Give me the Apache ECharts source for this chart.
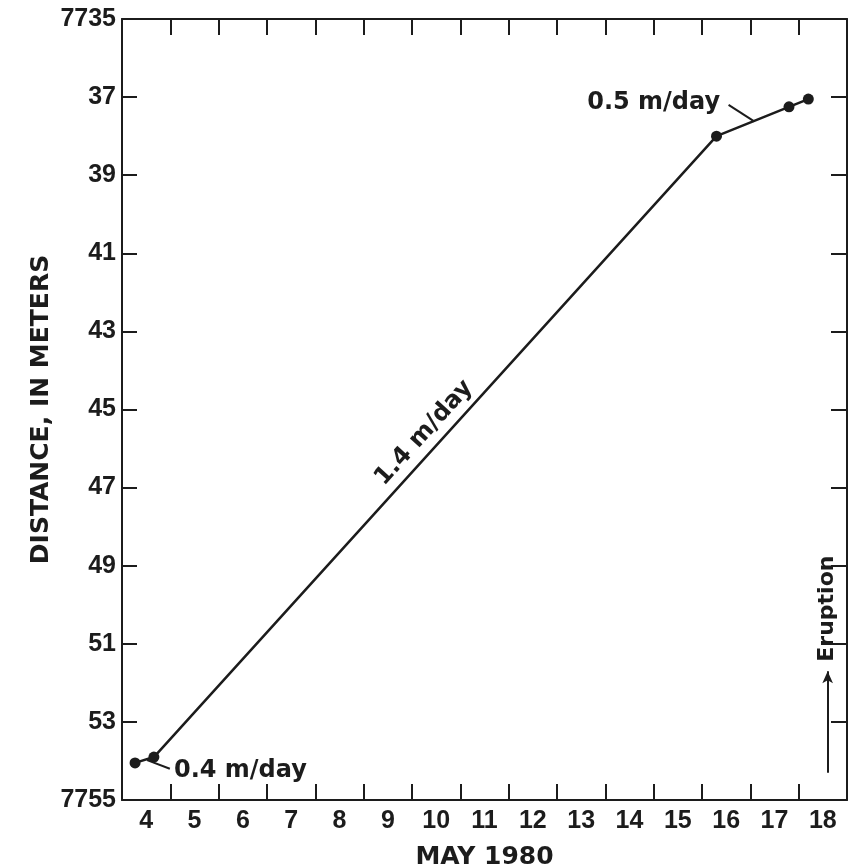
<!DOCTYPE html>
<html>
<head>
<meta charset="utf-8">
<script src="https://cdn.jsdelivr.net/npm/echarts@6/dist/echarts.min.js"></script>
<style>
  html, body { margin: 0; padding: 0; background: #fff; }
  #main { width: 856px; height: 868px; }
</style>
</head>
<body>
<div id="main"></div>
<script>
// days of May 1980 (each label sits in the middle of its day)
const days = ['4', '5', '6', '7', '8', '9', '10', '11', '12', '13', '14', '15', '16', '17', '18'];

// survey points: day (fractional) and distance in meters
const obsDay = [4.27, 4.66, 16.3, 17.8, 18.2];
const obsDist = [7754.05, 7753.9, 7738.0, 7737.25, 7737.05];

// rate notes
const noteText = ['0.4 m/day', '1.4 m/day', '0.5 m/day'];
const noteDay = [6.45, 10.25, 15.0];
const noteDist = [7754.25, 7745.6, 7737.15];
const noteAngle = [0, 47.8, 0];

// leader lines from notes to the line
const leaderFrom = [[4.52, 7753.98], [16.55, 7737.2]];
const leaderTo = [[4.99, 7754.2], [17.08, 7737.62]];

// eruption marker
const eruptionDay = 18.6;
const eruptionArrow = [7754.3, 7751.7];
const eruptionTextDist = 7750.1;

const TICK_FONT = 'Liberation Sans';
const TEXT_FONT = 'DejaVu Sans';
const INK = '#1c1c1c';

let chart = echarts.init(document.getElementById('main'));

let notes = noteText.map((t, i) => ({
  value: [noteDay[i], noteDist[i]],
  label: { formatter: t, rotate: noteAngle[i] }
}));
notes.push({
  value: [eruptionDay, eruptionTextDist],
  label: { formatter: 'Eruption', rotate: 90, fontSize: 22 }
});

let lineMarks = leaderFrom.map((p, i) => [{ coord: p }, { coord: leaderTo[i] }]);
lineMarks.push([
  { coord: [eruptionDay, eruptionArrow[0]], symbol: 'none' },
  { coord: [eruptionDay, eruptionArrow[1]], symbol: 'arrow', symbolSize: [8, 12] }
]);

let tickLabel = { fontFamily: TICK_FONT, fontSize: 25, fontWeight: 'bold', color: INK };
let nameText = { fontFamily: TEXT_FONT, fontSize: 25, fontWeight: 'bold', color: INK };

let option = {
  animation: false,
  backgroundColor: '#ffffff',
  grid: { left: 122, right: 9, top: 19, bottom: 68, outerBoundsMode: 'none', containLabel: false },
  xAxis: [
    {
      // value axis for the data
      type: 'value',
      min: 4,
      max: 19,
      show: false
    },
    {
      type: 'category',
      position: 'bottom',
      data: days,
      boundaryGap: true,
      name: 'MAY 1980',
      nameLocation: 'middle',
      nameGap: 45,
      nameMoveOverlap: false,
      nameTextStyle: nameText,
      axisLine: { show: true, lineStyle: { color: INK, width: 2 } },
      axisTick: { show: true, inside: true, length: 16, lineStyle: { color: INK, width: 2 } },
      axisLabel: Object.assign({ margin: 9 }, tickLabel),
      splitLine: { show: false }
    },
    {
      type: 'category',
      position: 'top',
      data: days,
      boundaryGap: true,
      axisLine: { show: true, lineStyle: { color: INK, width: 2 } },
      axisTick: { show: true, inside: true, length: 16, lineStyle: { color: INK, width: 2 } },
      axisLabel: { show: false },
      splitLine: { show: false }
    }
  ],
  yAxis: [
    {
      type: 'value',
      position: 'left',
      inverse: true,
      min: 7735,
      max: 7755,
      interval: 2,
      name: 'DISTANCE, IN METERS',
      nameLocation: 'middle',
      nameGap: 68,
      nameMoveOverlap: false,
      nameTextStyle: nameText,
      axisLine: { show: true, lineStyle: { color: INK, width: 2 } },
      axisTick: { show: true, inside: true, length: 15, lineStyle: { color: INK, width: 2 } },
      axisLabel: Object.assign({
        margin: 6,
        formatter: function (v) {
          if (v === 7735 || v === 7755) return String(v);
          return String(v).slice(2);
        }
      }, tickLabel),
      splitLine: { show: false }
    },
    {
      type: 'value',
      position: 'right',
      inverse: true,
      min: 7735,
      max: 7755,
      interval: 2,
      axisLine: { show: true, lineStyle: { color: INK, width: 2 } },
      axisTick: { show: true, inside: true, length: 16, lineStyle: { color: INK, width: 2 } },
      axisLabel: { show: false },
      splitLine: { show: false }
    }
  ],
  series: [
    {
      name: 'distance',
      type: 'line',
      xAxisIndex: 0,
      yAxisIndex: 0,
      data: obsDay.map((d, i) => [d, obsDist[i]]),
      symbol: 'circle',
      symbolSize: 11,
      showAllSymbol: true,
      itemStyle: { color: INK },
      lineStyle: { color: INK, width: 2.5 }
    },
    {
      name: 'notes',
      type: 'scatter',
      xAxisIndex: 0,
      yAxisIndex: 0,
      symbolSize: 0,
      data: notes,
      itemStyle: { color: INK, opacity: 1 },
      label: {
        show: true,
        position: 'inside',
        fontFamily: TEXT_FONT,
        fontSize: 24,
        fontWeight: 'bold',
        color: INK,
        opacity: 1
      },
      markLine: {
        silent: true,
        symbol: ['none', 'none'],
        label: { show: false },
        lineStyle: { color: INK, width: 2, type: 'solid', opacity: 1 },
        data: lineMarks
      }
    }
  ]
};

chart.setOption(option);
</script>
</body>
</html>
